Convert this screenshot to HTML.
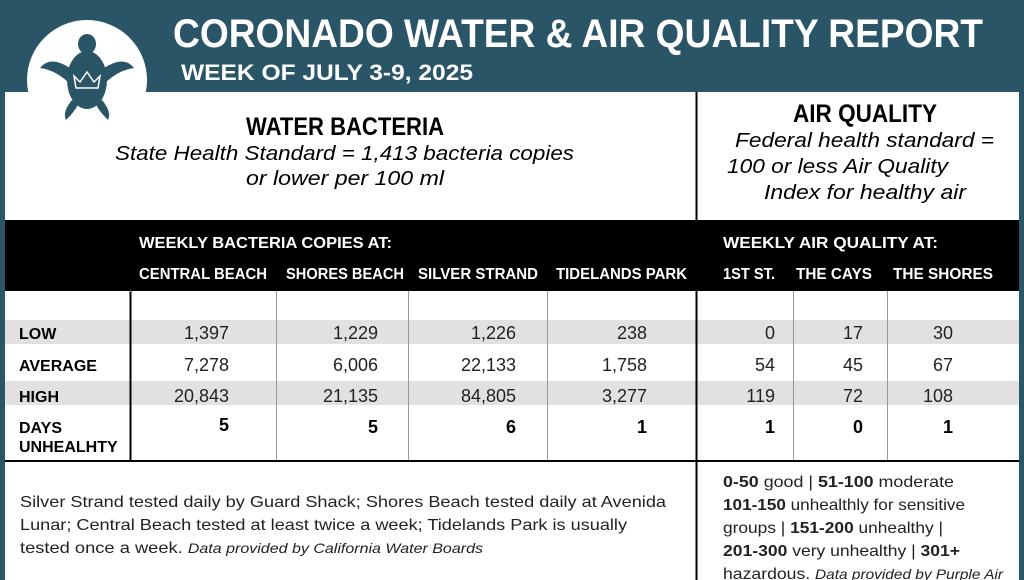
<!DOCTYPE html>
<html><head><meta charset="utf-8"><style>
html,body{margin:0;padding:0;background:#fff;}
svg{display:block;}
text{font-family:"Liberation Sans",sans-serif;}
</style></head><body>
<svg width="1024" height="580" viewBox="0 0 1024 580" xmlns="http://www.w3.org/2000/svg">
<rect x="0" y="0" width="1024" height="580" fill="#2a5566"/>
<rect x="5" y="92" width="1014" height="488" fill="#fff"/>
<!-- logo -->
<circle cx="87" cy="80" r="60" fill="#fff"/>
<g fill="#2a5566">
<ellipse cx="87" cy="80" rx="20" ry="29"/>
<ellipse cx="87" cy="44" rx="9" ry="10"/>
<path d="M70 68 Q50 55 40 68 Q55 70 68 82Z"/>
<path d="M104 68 Q124 55 134 68 Q119 70 106 82Z"/>
<path d="M72 100 Q62 112 66 120 Q76 110 78 104Z"/>
<path d="M102 100 Q112 112 108 120 Q98 110 96 104Z"/>
</g>
<path d="M76 88 L74 76 L80 82 L87 72 L94 82 L100 76 L98 88Z" fill="none" stroke="#fff" stroke-width="1.5"/>
<!-- header text -->
<text x="173" y="47" font-size="40" font-weight="bold" fill="#fff" textLength="810" lengthAdjust="spacingAndGlyphs">CORONADO WATER &amp; AIR QUALITY REPORT</text>
<text x="181" y="80" font-size="22" font-weight="bold" fill="#fff" textLength="292" lengthAdjust="spacingAndGlyphs">WEEK OF JULY 3-9, 2025</text>
<!-- section headings -->
<text x="246" y="135" font-size="25" font-weight="bold" textLength="198" lengthAdjust="spacingAndGlyphs">WATER BACTERIA</text>
<text x="115" y="160" font-size="20" font-style="italic" textLength="459" lengthAdjust="spacingAndGlyphs">State Health Standard  = 1,413 bacteria copies</text>
<text x="246" y="185" font-size="20" font-style="italic" textLength="198" lengthAdjust="spacingAndGlyphs">or lower per 100 ml</text>
<text x="793" y="122" font-size="25" font-weight="bold" textLength="144" lengthAdjust="spacingAndGlyphs">AIR QUALITY</text>
<text x="735" y="147" font-size="20" font-style="italic" textLength="259" lengthAdjust="spacingAndGlyphs">Federal health standard =</text>
<text x="727" y="173" font-size="20" font-style="italic" textLength="221" lengthAdjust="spacingAndGlyphs">100 or less Air Quality</text>
<text x="764" y="199" font-size="20" font-style="italic" textLength="202" lengthAdjust="spacingAndGlyphs">Index for healthy air</text>
<!-- black band -->
<rect x="5" y="220" width="1014" height="71" fill="#000"/>
<g fill="#fff" font-size="16" font-weight="bold">
<text x="139" y="248" textLength="253" lengthAdjust="spacingAndGlyphs">WEEKLY BACTERIA COPIES AT:</text>
<text x="139" y="279" textLength="128" lengthAdjust="spacingAndGlyphs">CENTRAL BEACH</text>
<text x="286" y="279" textLength="118" lengthAdjust="spacingAndGlyphs">SHORES BEACH</text>
<text x="418" y="279" textLength="120" lengthAdjust="spacingAndGlyphs">SILVER STRAND</text>
<text x="556" y="279" textLength="131" lengthAdjust="spacingAndGlyphs">TIDELANDS PARK</text>
<text x="723" y="248" textLength="215" lengthAdjust="spacingAndGlyphs">WEEKLY AIR QUALITY AT:</text>
<text x="723" y="279" textLength="52" lengthAdjust="spacingAndGlyphs">1ST ST.</text>
<text x="796" y="279" textLength="76" lengthAdjust="spacingAndGlyphs">THE CAYS</text>
<text x="893" y="279" textLength="100" lengthAdjust="spacingAndGlyphs">THE SHORES</text>
</g>
<!-- gray rows -->
<rect x="5" y="320" width="1014" height="24" fill="#e1e1e3"/>
<rect x="5" y="381" width="1014" height="24" fill="#e1e1e3"/>
<!-- lines -->
<g stroke="#999" stroke-width="1">
<line x1="276.5" y1="291" x2="276.5" y2="461"/>
<line x1="408.5" y1="291" x2="408.5" y2="461"/>
<line x1="547.5" y1="291" x2="547.5" y2="461"/>
<line x1="793.5" y1="291" x2="793.5" y2="461"/>
<line x1="887.5" y1="291" x2="887.5" y2="461"/>
</g>
<line x1="130.5" y1="220" x2="130.5" y2="461" stroke="#000" stroke-width="2"/>
<line x1="696.5" y1="92" x2="696.5" y2="580" stroke="#000" stroke-width="2"/>
<line x1="130" y1="291" x2="131" y2="291" stroke="#fff"/>
<line x1="5" y1="461" x2="1019" y2="461" stroke="#000" stroke-width="2"/>
<!-- row labels -->
<g font-size="16" font-weight="bold">
<text x="19" y="339">LOW</text>
<text x="19" y="371">AVERAGE</text>
<text x="19" y="402">HIGH</text>
<text x="19" y="433">DAYS</text>
<text x="19" y="452">UNHEALHTY</text>
</g>
<g font-size="18" text-anchor="end" fill="#222">
<text x="229" y="339">1,397</text><text x="378" y="339">1,229</text><text x="516" y="339">1,226</text><text x="647" y="339">238</text>
<text x="775" y="339">0</text><text x="863" y="339">17</text><text x="953" y="339">30</text>
<text x="229" y="371">7,278</text><text x="378" y="371">6,006</text><text x="516" y="371">22,133</text><text x="647" y="371">1,758</text>
<text x="775" y="371">54</text><text x="863" y="371">45</text><text x="953" y="371">67</text>
<text x="229" y="402">20,843</text><text x="378" y="402">21,135</text><text x="516" y="402">84,805</text><text x="647" y="402">3,277</text>
<text x="775" y="402">119</text><text x="863" y="402">72</text><text x="953" y="402">108</text>
</g>
<g font-size="18" font-weight="bold" text-anchor="end">
<text x="229" y="431">5</text><text x="378" y="433">5</text><text x="516" y="433">6</text><text x="647" y="433">1</text>
<text x="775" y="433">1</text><text x="863" y="433">0</text><text x="953" y="433">1</text>
</g>
<!-- footnotes -->
<g font-size="16" fill="#222">
<text x="20" y="507" textLength="646" lengthAdjust="spacingAndGlyphs">Silver Strand tested daily by Guard Shack; Shores Beach tested daily at Avenida</text>
<text x="20" y="530" textLength="607" lengthAdjust="spacingAndGlyphs">Lunar; Central Beach tested at least twice a week; Tidelands Park is usually</text>
<text x="20" y="553" textLength="463" lengthAdjust="spacingAndGlyphs">tested once a week. <tspan font-style="italic" font-size="14">Data provided by California Water Boards</tspan></text>
<text x="723" y="487" textLength="231" lengthAdjust="spacingAndGlyphs"><tspan font-weight="bold">0-50</tspan> good | <tspan font-weight="bold">51-100</tspan> moderate</text>
<text x="723" y="510" textLength="242" lengthAdjust="spacingAndGlyphs"><tspan font-weight="bold">101-150</tspan> unhealthly for sensitive</text>
<text x="723" y="533" textLength="220" lengthAdjust="spacingAndGlyphs">groups | <tspan font-weight="bold">151-200</tspan> unhealthy |</text>
<text x="723" y="556" textLength="237" lengthAdjust="spacingAndGlyphs"><tspan font-weight="bold">201-300</tspan> very unhealthy | <tspan font-weight="bold">301+</tspan></text>
<text x="723" y="579" textLength="280" lengthAdjust="spacingAndGlyphs">hazardous. <tspan font-style="italic" font-size="14">Data provided by Purple Air</tspan></text>
</g>
</svg>
</body></html>
